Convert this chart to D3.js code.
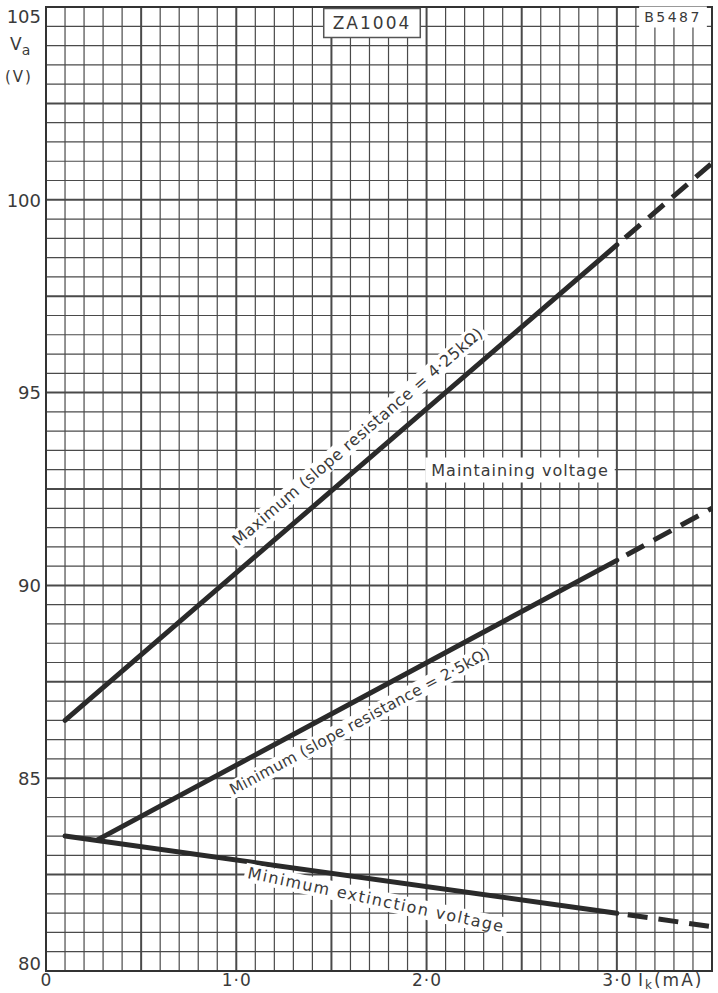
<!DOCTYPE html>
<html><head><meta charset="utf-8">
<script src="https://cdn.jsdelivr.net/npm/d3@7"></script>
<style>html,body{margin:0;padding:0;background:#fff;}svg{display:block;}</style>
</head><body>
<script>
// ---- data ----
const xTicks = [0, 1.0, 2.0, 3.0];
const xTickLabels = ["0", "1·0", "2·0", "3·0"];
const yTicks = [80, 85, 90, 95, 100, 105];
const yTickLabels = ["80", "85", "90", "95", "100", "105"];
// curves: first two points = solid part, last point = end of dashed extension
const maxI = [0.1, 3.0, 3.5];
const maxV = [86.5, 98.83, 100.95];
const minI = [0.27, 3.0, 3.5];
const minV = [83.4, 90.65, 92.0];
const extI = [0.1, 3.0, 3.5];
const extV = [83.5, 81.5, 81.15];
const labelMax = "Maximum (slope resistance = 4·25kΩ)";
const labelMin = "Minimum (slope resistance = 2·5kΩ)";
const labelExt = "Minimum extinction voltage";
const labelMaint = "Maintaining voltage";

const W = 718, H = 993;
const svg = d3.select("body").append("svg").attr("width", W).attr("height", H);
const x = d3.scaleLinear().domain([0, 3.5]).range([46, 712]);
const y = d3.scaleLinear().domain([80, 105]).range([971, 7]);
const ink = "#3a3a3a";
const font = "DejaVu Sans, sans-serif";

// grid
const g = svg.append("g");
const vLines = d3.range(0, 36).map(i => i / 10);
const hLines = d3.range(0, 51).map(i => 80 + i / 2);
g.selectAll(".v").data(vLines).join("line")
  .attr("x1", d => x(d)).attr("x2", d => x(d)).attr("y1", y(80)).attr("y2", y(105))
  .attr("stroke", "#4a4a4a").attr("stroke-width", (d, i) => i % 5 === 0 ? 2 : 1.2);
g.selectAll(".h").data(hLines).join("line")
  .attr("y1", d => y(d)).attr("y2", d => y(d)).attr("x1", x(0)).attr("x2", x(3.5))
  .attr("stroke", "#4a4a4a").attr("stroke-width", (d, i) => i % 5 === 0 ? 2 : 1.2);
g.append("rect").attr("x", x(0)).attr("y", y(105)).attr("width", x(3.5) - x(0)).attr("height", y(80) - y(105))
  .attr("fill", "none").attr("stroke", "#333").attr("stroke-width", 2);

// axes tick labels
const yAxis = d3.axisLeft(y).tickValues(yTicks).tickFormat((d, i) => yTickLabels[i]).tickSize(0).tickPadding(5);
const ya = svg.append("g").attr("transform", `translate(${x(0)},0)`).call(yAxis);
ya.select(".domain").remove();
ya.selectAll("text").attr("font-family", font).attr("font-size", 18).attr("fill", ink)
  .attr("dy", d => d === 105 ? "0.85em" : d === 80 ? "-0.1em" : "0.35em");
const xAxis = d3.axisBottom(x).tickValues(xTicks).tickFormat((d, i) => xTickLabels[i]).tickSize(0).tickPadding(3);
const xa = svg.append("g").attr("transform", `translate(0,${y(80)})`).call(xAxis);
xa.select(".domain").remove();
xa.selectAll("text").attr("font-family", font).attr("font-size", 17).attr("fill", ink).attr("letter-spacing", 1);

// axis titles
const va = svg.append("text").attr("x", 10).attr("y", 50).attr("font-family", font).attr("font-size", 17).attr("fill", ink);
va.append("tspan").text("V");
va.append("tspan").text("a").attr("font-size", 14).attr("dy", 5);
svg.append("text").attr("x", 5).attr("y", 82).attr("font-family", font).attr("font-size", 15).attr("fill", ink).attr("letter-spacing", 2).text("(V)");
const ik = svg.append("text").attr("x", 638).attr("y", 986).attr("font-family", font).attr("font-size", 17)
  .attr("fill", ink).attr("letter-spacing", 2);
ik.append("tspan").text("I");
ik.append("tspan").text("k").attr("font-size", 12).attr("dy", 3);
ik.append("tspan").text("(mA)").attr("dy", -3).attr("font-size", 17);

// boxed labels
function boxLabel(txt, cx, cy, fs, pad, border, ls) {
  const grp = svg.append("g");
  const t = grp.append("text").attr("x", cx).attr("y", cy).attr("text-anchor", "middle").attr("dominant-baseline", "central")
    .attr("font-family", font).attr("font-size", fs).attr("fill", ink).attr("letter-spacing", ls).text(txt);
  const b = t.node().getBBox();
  grp.insert("rect", "text").attr("x", b.x - pad).attr("y", b.y - pad / 2).attr("width", b.width + 2 * pad).attr("height", b.height + pad)
    .attr("fill", "#fff").attr("stroke", border ? "#555" : "none").attr("stroke-width", 1.5);
}
boxLabel("ZA1004", 372, 23, 17, 9, true, 2);
boxLabel("B5487", 673, 17, 14, 5, false, 2.5);
boxLabel(labelMaint, 520, 470, 16, 6, false, 1);

// curves
const line = d3.line().x(d => x(d[0])).y(d => y(d[1]));
function curve(I, V) {
  const pts = I.map((d, i) => [d, V[i]]);
  svg.append("path").attr("d", line(pts.slice(0, 2))).attr("fill", "none").attr("stroke", "#2a2a2a")
    .attr("stroke-width", 5).attr("stroke-linecap", "round");
  svg.append("path").attr("d", line(pts.slice(1))).attr("fill", "none").attr("stroke", "#2a2a2a")
    .attr("stroke-width", 5).attr("stroke-dasharray", "20 11").attr("stroke-dashoffset", 20);
}
curve(maxI, maxV);
curve(minI, minV);
curve(extI, extV);

// rotated labels along curves
function along(txt, I, V, at, offset, fs, ls, extraRot) {
  const x0 = x(I[0]), y0 = y(V[0]), x1 = x(I[1]), y1 = y(V[1]);
  const ang = Math.atan2(y1 - y0, x1 - x0);
  const px = x(at), py = y0 + (px - x0) * (y1 - y0) / (x1 - x0);
  const nx = -Math.sin(ang), ny = Math.cos(ang);
  const cx = px + nx * offset, cy = py + ny * offset;
  const grp = svg.append("g").attr("transform", `translate(${cx},${cy}) rotate(${ang * 180 / Math.PI + extraRot})`);
  const t = grp.append("text").attr("text-anchor", "middle").attr("dominant-baseline", "central")
    .attr("font-family", font).attr("font-size", fs).attr("fill", ink).attr("letter-spacing", ls).text(txt);
  const b = t.node().getBBox();
  grp.insert("rect", "text").attr("x", b.x - 3).attr("y", b.y).attr("width", b.width + 6).attr("height", b.height).attr("fill", "#fff");
}
along(labelMax, maxI, maxV, 1.72, -24, 16, 0.5, 0);
along(labelMin, minI, minV, 1.6, 20, 15.5, 0.3, 0);
along(labelExt, extI, extV, 1.75, 20, 16, 1.5, 4);
</script>
</body></html>
